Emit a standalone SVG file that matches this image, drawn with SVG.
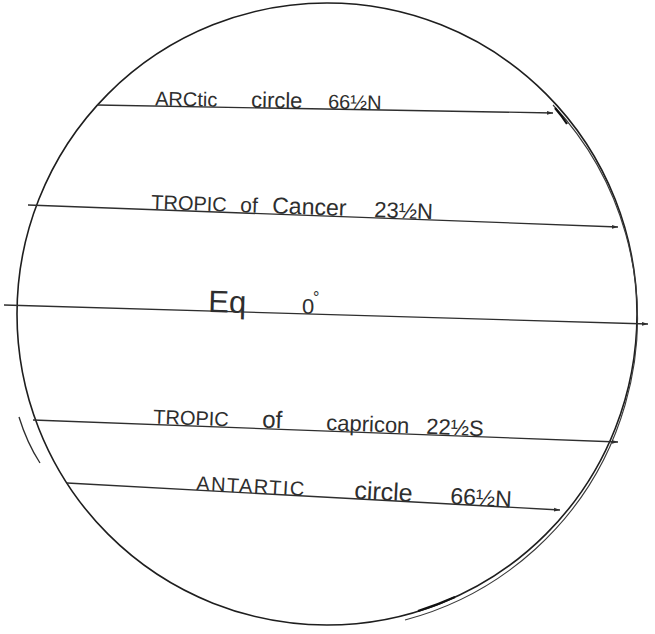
<svg xmlns="http://www.w3.org/2000/svg" width="655" height="634" viewBox="0 0 655 634">
<style>
.ln{stroke:#2e2e2e;stroke-width:1.3;fill:none}
.gl{stroke:#1e1e1e;stroke-width:1.6;fill:none}
.g2{stroke:#3a3a3a;stroke-width:1.1;fill:none}
.t{font-family:"Liberation Sans",Arial,sans-serif;fill:#2e2e2e}
</style>
<defs>
<marker id="ah" markerWidth="7" markerHeight="5" refX="6" refY="2.5" orient="auto" markerUnits="userSpaceOnUse">
<path d="M0,0.6 L6,2.5 L0,4.4 Z" fill="#2e2e2e"/>
</marker>
</defs>
<rect width="655" height="634" fill="#ffffff"/>
<g id="globe">
<ellipse class="gl" cx="327" cy="314" rx="310" ry="311"/>
<path class="g2" d="M553,105 A312 312 0 0 1 405,620"/>
<path class="ln" d="M19,417 Q27,443 40,463"/>
<path d="M555,108 Q562,116 567,124" stroke="#111" stroke-width="2.2" fill="none"/>
<path d="M418,611 Q437,605 455,597" stroke="#111" stroke-width="2.2" fill="none"/>
</g>
<g id="connectors">
<line class="ln" x1="97" y1="105" x2="553" y2="113" marker-end="url(#ah)"/>
<line class="ln" x1="28" y1="205" x2="618" y2="227" marker-end="url(#ah)"/>
<line class="ln" x1="4" y1="305" x2="648" y2="324" marker-end="url(#ah)"/>
<line class="ln" x1="33" y1="420" x2="618" y2="442" marker-end="url(#ah)"/>
<line class="ln" x1="67" y1="483" x2="560" y2="510" marker-end="url(#ah)"/>
</g>
<g id="arctic">
<text class="t" x="155" y="105.5" font-size="20" transform="rotate(1 155 105.5)">ARCtic</text>
<text class="t" x="251" y="107.3" font-size="22" transform="rotate(1 251 107.3)">circle</text>
<text class="t" x="328" y="108.5" font-size="20" transform="rotate(1 328 108.5)">66½N</text>
</g>
<g id="cancer">
<text class="t" x="151" y="208.8" font-size="20" transform="rotate(2.1 151 208.8)">TROPIC</text>
<text class="t" x="240" y="212" font-size="21" transform="rotate(2.1 240 212)">of</text>
<text class="t" x="272" y="213.2" font-size="23" transform="rotate(2.1 272 213.2)">Cancer</text>
<text class="t" x="374" y="217" font-size="22" transform="rotate(2.1 374 217)">23½N</text>
</g>
<g id="equator">
<text class="t" x="208" y="312" font-size="31" transform="rotate(1.7 208 312)">Eq</text>
<text class="t" x="302" y="313.5" font-size="22">0</text>
<text class="t" x="313" y="303" font-size="16">°</text>
</g>
<g id="capricorn">
<text class="t" x="153" y="423.5" font-size="20" transform="rotate(2.15 153 423.5)">TROPIC</text>
<text class="t" x="262" y="427.5" font-size="24" transform="rotate(2.15 262 427.5)">of</text>
<text class="t" x="326" y="430" font-size="22" transform="rotate(2.15 326 430)">capricon</text>
<text class="t" x="426" y="433.8" font-size="22" transform="rotate(2.15 426 433.8)">22½S</text>
</g>
<g id="antarctic">
<text class="t" x="196" y="490" font-size="20" textLength="108" lengthAdjust="spacing" transform="rotate(3.1 196 490)">ANTARTIC</text>
<text class="t" x="354" y="498.5" font-size="25" transform="rotate(3.1 354 498.5)">circle</text>
<text class="t" x="450" y="503.8" font-size="23" transform="rotate(3.1 450 503.8)">66½N</text>
</g>
</svg>
